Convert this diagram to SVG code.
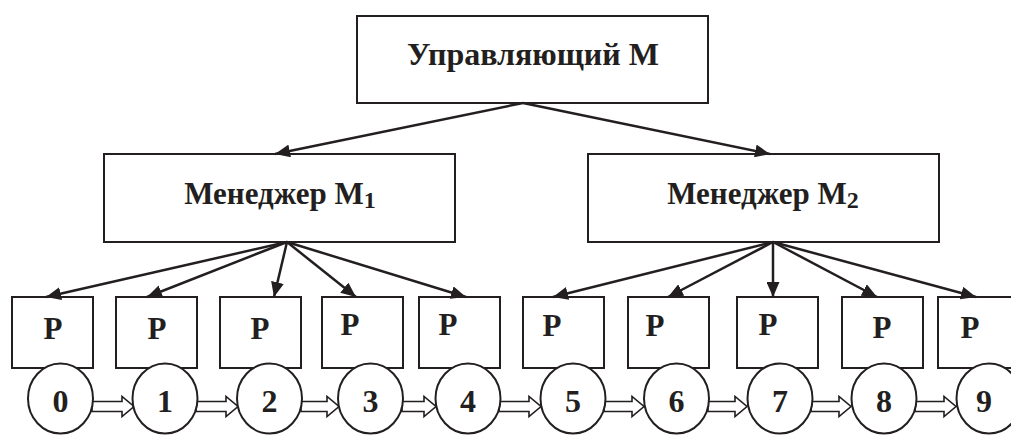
<svg xmlns="http://www.w3.org/2000/svg" width="1011" height="435" viewBox="0 0 1011 435">
<style>
.box{fill:#fff;stroke:#231f20;stroke-width:2}
.t{font-family:"Liberation Serif","Times New Roman",serif;font-weight:bold;fill:#231f20;text-anchor:middle}
.big{font-size:32px}
.mid{font-size:31px}
.p{font-size:31px}
.d{font-size:32px}
.con line{stroke:#231f20;stroke-width:2.5;marker-end:url(#ah)}
.blk{fill:#fff;stroke:#231f20;stroke-width:1.6;stroke-linejoin:miter}
.c{fill:#fff;stroke:#231f20;stroke-width:2}
</style>
<defs>
<marker id="ah" markerUnits="userSpaceOnUse" markerWidth="16" markerHeight="13" refX="15" refY="6.5" orient="auto">
<path d="M0,0 L15,6.5 L0,13 z" fill="#231f20"/>
</marker>
</defs>
<rect width="1011" height="435" fill="#fff"/>
<g id="top"><rect class="box" x="357" y="16" width="351" height="87"/><text class="t big" x="533" y="65">Управляющий М</text></g>
<g id="m1"><rect class="box" x="104" y="154" width="351" height="88"/><text class="t mid" x="280" y="204">Менеджер М<tspan font-size="24" dy="4">1</tspan></text></g>
<g id="m2"><rect class="box" x="588" y="154" width="351" height="88"/><text class="t mid" x="763" y="204">Менеджер М<tspan font-size="24" dy="4">2</tspan></text></g>
<g id="p0"><rect class="box" x="12" y="297" width="81" height="71"/><text class="t p" x="53" y="339">P</text></g>
<g id="p1"><rect class="box" x="116" y="297" width="81" height="71"/><text class="t p" x="157" y="339">P</text></g>
<g id="p2"><rect class="box" x="220" y="297" width="81" height="71"/><text class="t p" x="260" y="339">P</text></g>
<g id="p3"><rect class="box" x="322" y="297" width="81" height="71"/><text class="t p" x="350" y="335">P</text></g>
<g id="p4"><rect class="box" x="419" y="297" width="81" height="71"/><text class="t p" x="448" y="335">P</text></g>
<g id="p5"><rect class="box" x="523" y="297" width="81" height="71"/><text class="t p" x="552" y="336">P</text></g>
<g id="p6"><rect class="box" x="628" y="297" width="81" height="71"/><text class="t p" x="655" y="336">P</text></g>
<g id="p7"><rect class="box" x="737" y="297" width="81" height="71"/><text class="t p" x="768" y="335">P</text></g>
<g id="p8"><rect class="box" x="842" y="297" width="81" height="71"/><text class="t p" x="882" y="338">P</text></g>
<g id="p9"><rect class="box" x="938" y="297" width="81" height="71"/><text class="t p" x="970" y="338">P</text></g>
<g id="connectors" class="con">
<line x1="523" y1="103" x2="275" y2="154"/>
<line x1="523" y1="103" x2="770" y2="154"/>
<line x1="287" y1="242" x2="46" y2="297"/>
<line x1="287" y1="242" x2="147" y2="297"/>
<line x1="287" y1="242" x2="274" y2="297"/>
<line x1="287" y1="242" x2="356" y2="297"/>
<line x1="287" y1="242" x2="466" y2="297"/>
<line x1="773" y1="242" x2="553" y2="297"/>
<line x1="773" y1="242" x2="668" y2="297"/>
<line x1="773" y1="242" x2="773" y2="297"/>
<line x1="773" y1="242" x2="877" y2="297"/>
<line x1="773" y1="242" x2="976" y2="297"/>
</g>
<g id="flow">
<path class="blk" d="M92,401.5 H122 V396.5 L134,406.5 L122,416.5 V411.5 H92 Z"/>
<path class="blk" d="M196,401.5 H226 V396.5 L238,406.5 L226,416.5 V411.5 H196 Z"/>
<path class="blk" d="M301,401.5 H327 V396.5 L339,406.5 L327,416.5 V411.5 H301 Z"/>
<path class="blk" d="M402,401.5 H424 V396.5 L436,406.5 L424,416.5 V411.5 H402 Z"/>
<path class="blk" d="M499,401.5 H529 V396.5 L541,406.5 L529,416.5 V411.5 H499 Z"/>
<path class="blk" d="M604,401.5 H632 V396.5 L644,406.5 L632,416.5 V411.5 H604 Z"/>
<path class="blk" d="M708,401.5 H735 V396.5 L747,406.5 L735,416.5 V411.5 H708 Z"/>
<path class="blk" d="M811,401.5 H839 V396.5 L851,406.5 L839,416.5 V411.5 H811 Z"/>
<path class="blk" d="M915,401.5 H944 V396.5 L956,406.5 L944,416.5 V411.5 H915 Z"/>
</g>
<g id="c0"><ellipse class="c" cx="60.5" cy="398.5" rx="32.5" ry="35"/><text class="t d" x="60.5" y="412">0</text></g>
<g id="c1"><ellipse class="c" cx="165" cy="398.5" rx="32.5" ry="35"/><text class="t d" x="165" y="412">1</text></g>
<g id="c2"><ellipse class="c" cx="269.5" cy="398.5" rx="32.5" ry="35"/><text class="t d" x="269.5" y="412">2</text></g>
<g id="c3"><ellipse class="c" cx="370.5" cy="398.5" rx="32.5" ry="35"/><text class="t d" x="370.5" y="412">3</text></g>
<g id="c4"><ellipse class="c" cx="468" cy="398.5" rx="32.5" ry="35"/><text class="t d" x="468" y="412">4</text></g>
<g id="c5"><ellipse class="c" cx="573" cy="398.5" rx="32.5" ry="35"/><text class="t d" x="573" y="412">5</text></g>
<g id="c6"><ellipse class="c" cx="676.5" cy="398.5" rx="32.5" ry="35"/><text class="t d" x="676.5" y="412">6</text></g>
<g id="c7"><ellipse class="c" cx="780" cy="398.5" rx="32.5" ry="35"/><text class="t d" x="780" y="412">7</text></g>
<g id="c8"><ellipse class="c" cx="884" cy="398.5" rx="32.5" ry="35"/><text class="t d" x="884" y="412">8</text></g>
<g id="c9"><ellipse class="c" cx="989" cy="398.5" rx="32.5" ry="35"/><text class="t d" x="984" y="412">9</text></g>
</svg>
